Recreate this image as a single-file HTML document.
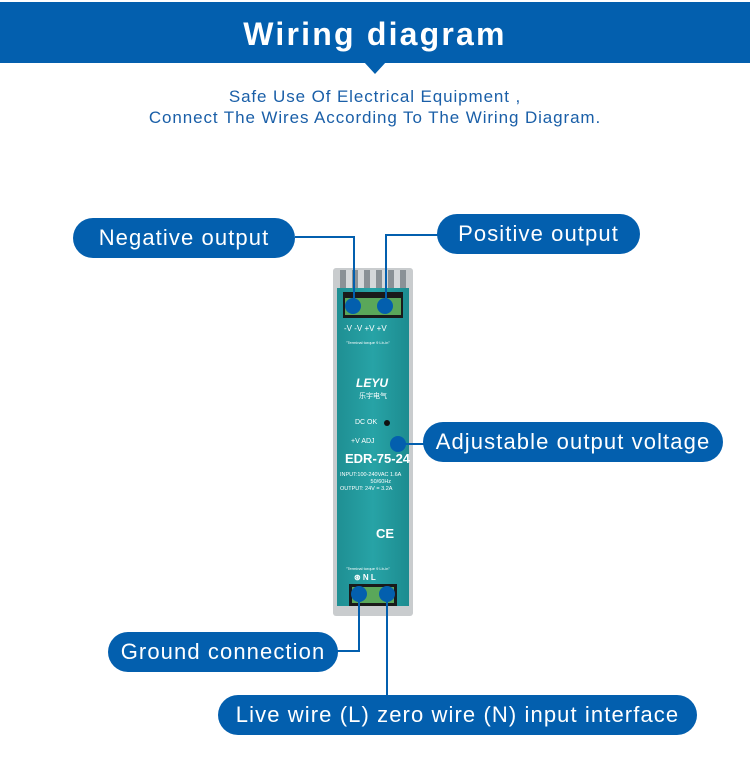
<!DOCTYPE html>
<html><head><meta charset="utf-8"><style>
body{margin:0;width:750px;height:782px;background:#fff;position:relative;overflow:hidden;font-family:"Liberation Sans",sans-serif}
.hdr{position:absolute;left:0;top:2px;width:750px;height:61px;background:#035fae;color:#fff;text-align:center;font-weight:bold;font-size:32px;line-height:64px;letter-spacing:2.2px}
.tri{position:absolute;left:364px;top:62px;width:0;height:0;border-left:11px solid transparent;border-right:11px solid transparent;border-top:12px solid #035fae}
.sub{position:absolute;left:0;width:750px;text-align:center;color:#1a5fa8;font-size:17px;letter-spacing:0.9px}
.pill{position:absolute;background:#035fae;color:#fff;border-radius:20px;height:40px;line-height:40px;font-size:22px;text-align:center;letter-spacing:1.1px}
.ln{position:absolute;background:#035fae}
.dot{position:absolute;width:16px;height:16px;border-radius:50%;background:#035fae}
.t{position:absolute;color:#fff;white-space:nowrap}
</style></head><body>
<div class="hdr">Wiring diagram</div>
<div class="tri"></div>
<div class="sub" style="top:87px">Safe Use Of Electrical Equipment ,</div>
<div class="sub" style="top:108px">Connect The Wires According To The Wiring Diagram.</div>

<div style="position:absolute;left:333px;top:268px;width:80px;height:348px;background:#c9ccce;border-radius:3px"></div>
<div style="position:absolute;left:340px;top:270px;width:66px;height:20px;background:repeating-linear-gradient(90deg,#8a9196 0 6px,#d5d8da 6px 12px)"></div>
<div style="position:absolute;left:337px;top:288px;width:72px;height:318px;background:linear-gradient(90deg,#1f8f93,#27a3a6 50%,#1d8c90)"></div>
<div style="position:absolute;left:343px;top:292px;width:60px;height:26px;background:#1a1a1a"></div>
<div style="position:absolute;left:345px;top:298px;width:56px;height:17px;background:#5aa75a"></div>
<div class="t" style="left:344px;top:324px;font-size:8px">-V -V +V +V</div>
<div class="t" style="left:346px;top:340px;font-size:4px">"Terminal torque 9 Lb-in"</div>
<div class="t" style="left:356px;top:376px;font-size:12px;font-style:italic;font-weight:bold">LEYU</div>
<div class="t" style="left:359px;top:391px;font-size:7px">乐宇电气</div>
<div class="t" style="left:355px;top:419px;font-size:7px">DC OK</div>
<div style="position:absolute;left:384px;top:420px;width:6px;height:6px;border-radius:50%;background:#111"></div>
<div class="t" style="left:351px;top:438px;font-size:7px">+V ADJ</div>
<div class="t" style="left:345px;top:451px;font-size:13px;font-weight:bold">EDR-75-24</div>
<div class="t" style="left:340px;top:472px;font-size:5.5px;line-height:7px">INPUT:100-240VAC 1.6A<br>&nbsp;&nbsp;&nbsp;&nbsp;&nbsp;&nbsp;&nbsp;&nbsp;&nbsp;&nbsp;&nbsp;&nbsp;&nbsp;&nbsp;&nbsp;&nbsp;&nbsp;&nbsp;&nbsp;&nbsp;50/60Hz<br>OUTPUT: 24V = 3.2A</div>
<div class="t" style="left:376px;top:526px;font-size:13px;font-weight:bold">CE</div>
<div class="t" style="left:346px;top:566px;font-size:4px">"Terminal torque 9 Lb-in"</div>
<div class="t" style="left:354px;top:573px;font-size:8px;font-weight:bold">⊛ N L</div>
<div style="position:absolute;left:349px;top:584px;width:48px;height:22px;background:#1a1a1a"></div>
<div style="position:absolute;left:352px;top:587px;width:42px;height:16px;background:#5aa75a"></div>

<div class="ln" style="left:295px;top:236px;width:60px;height:2px"></div>
<div class="ln" style="left:353px;top:236px;width:2px;height:70px"></div>
<div class="ln" style="left:385px;top:234px;width:53px;height:2px"></div>
<div class="ln" style="left:385px;top:234px;width:2px;height:72px"></div>
<div class="ln" style="left:398px;top:443px;width:28px;height:2px"></div>
<div class="ln" style="left:358px;top:594px;width:2px;height:58px"></div>
<div class="ln" style="left:336px;top:650px;width:24px;height:2px"></div>
<div class="ln" style="left:386px;top:594px;width:2px;height:102px"></div>
<div class="dot" style="left:345px;top:298px"></div>
<div class="dot" style="left:377px;top:298px"></div>
<div class="dot" style="left:390px;top:436px"></div>
<div class="dot" style="left:351px;top:586px"></div>
<div class="dot" style="left:379px;top:586px"></div>

<div class="pill" style="left:73px;top:218px;width:222px">Negative output</div>
<div class="pill" style="left:437px;top:214px;width:203px">Positive output</div>
<div class="pill" style="left:423px;top:422px;width:300px">Adjustable output voltage</div>
<div class="pill" style="left:108px;top:632px;width:230px">Ground connection</div>
<div class="pill" style="left:218px;top:695px;width:479px">Live wire (L) zero wire (N) input interface</div>
</body></html>
